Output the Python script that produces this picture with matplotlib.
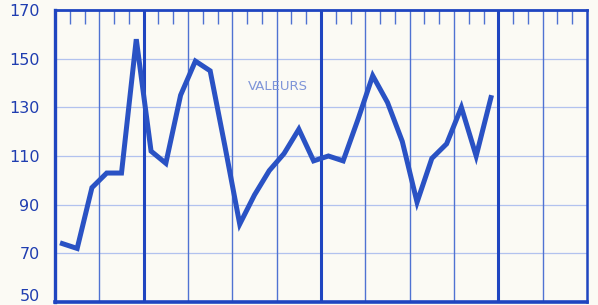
import matplotlib
matplotlib.use('Agg')
import matplotlib.pyplot as plt
import matplotlib.transforms as mtransforms

# values, one per slot (3 slots per grid column)
valeurs = [74, 72, 97, 103, 103, 158, 112, 107, 135, 149,
           145, 114, 82, 94, 104, 111, 121, 108, 110, 108,
           125, 143, 132, 116, 91, 109, 115, 130, 110, 134]
y_ticks = [50, 70, 90, 110, 130, 150, 170]
n_slots = 36

paper = '#fbfaf4'
ink = '#2a52c4'
grid_blue = '#4f72d2'
label_blue = '#1f3db0'

W, H = 598, 305
fig = plt.figure(figsize=(W / 100, H / 100), dpi=100, facecolor=paper)
ax = fig.add_axes([55 / W, 1 - 302 / H, (587 - 55) / W, (302 - 10) / H])
ax.set_facecolor(paper)

ax.set_xlim(0, n_slots)
ax.set_ylim(50, 170)

# horizontal grid (faint)
for v in y_ticks[1:-1]:
    ax.axhline(v, color='#b2c2ee', lw=0.9, zorder=1)

# vertical grid: thin every 3 slots, heavy every 12 starting at 6
for i in range(3, n_slots, 3):
    heavy = (i - 6) % 12 == 0
    ax.axvline(i, color='#1f45c0' if heavy else grid_blue,
               lw=2.2 if heavy else 1.0, zorder=1)

# small ticks hanging from the top edge
ax.set_xticks([i for i in range(1, n_slots) if i % 3 != 0])
ax.tick_params(axis='x', which='major', direction='in', top=True, bottom=False,
               labeltop=False, labelbottom=False, length=10, width=1.0,
               color=grid_blue, pad=0)

xs = [i + 0.5 for i in range(len(valeurs))]
ax.plot(xs, valeurs, color=ink, lw=3.6, solid_joinstyle='miter', zorder=3)

ax.set_yticks(y_ticks)
ax.set_yticklabels([str(v) for v in y_ticks], fontsize=11.5, color=label_blue)
ax.tick_params(axis='y', length=0, pad=11)
# bottom label sits a little higher so it is not clipped
lab50 = ax.get_yticklabels()[0]
lab50.set_transform(lab50.get_transform() +
                    mtransforms.ScaledTranslation(0, 5 / 72, fig.dpi_scale_trans))

for side in ['left', 'right', 'top', 'bottom']:
    ax.spines[side].set_color('#1f45c0')
ax.spines['left'].set_linewidth(2.4)
ax.spines['right'].set_linewidth(1.8)
ax.spines['top'].set_linewidth(2.0)
ax.spines['bottom'].set_linewidth(2.6)

ax.text(278 / W, 1 - 86 / H, 'VALEURS', transform=fig.transFigure,
        fontsize=9.5, color='#7f95d8', ha='center', va='center')

fig.savefig('out.png', dpi=100, facecolor=paper)
